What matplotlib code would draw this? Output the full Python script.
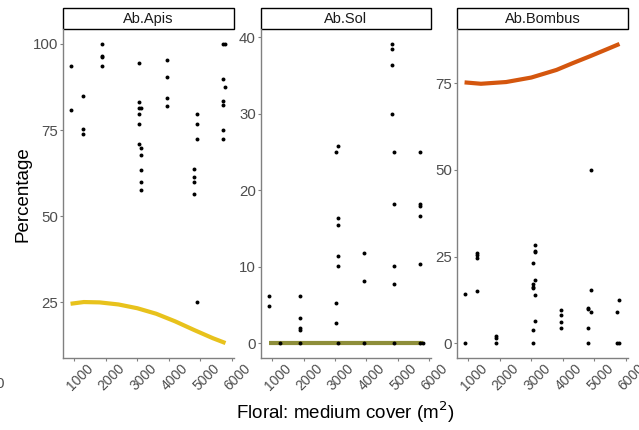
import matplotlib
matplotlib.use('Agg')
import matplotlib.pyplot as plt
import matplotlib.transforms as mtransforms
from matplotlib.patches import Rectangle

plt.rcParams['font.family'] = ['Liberation Sans', 'DejaVu Sans']

# site positions (floral medium cover, m2)
A, B, C, D, E, F, G, H, I, J = 880, 1260, 1880, 3040, 3110, 3930, 4810, 4890, 5730, 5800

panels = ['Ab.Apis', 'Ab.Sol', 'Ab.Bombus']

apis_x = [A, A, B, B, B, C, C, C, C,
          D, D, D, D, D, D, E, E, E, E, E, E,
          F, F, F, F, G, G, G, G, H, H, H, H,
          I, I, I, I, I, I, J, J]
apis_y = [93.7, 80.7, 84.8, 75.2, 74.0, 100, 96.6, 96.2, 93.7,
          94.6, 83.2, 81.4, 79.8, 76.7, 71.1, 81.4, 69.9, 67.7, 63.3, 59.9, 57.6,
          95.4, 90.3, 84.3, 82.1, 63.6, 61.5, 59.9, 56.5, 79.8, 76.7, 72.5, 25.0,
          100, 89.9, 83.3, 82.2, 75.0, 72.5, 100, 87.6]

sol_x = [A, A, B, C, C, C, C, C, D, D, D, E, E, E, E, E, E, F, F, F,
         G, G, G, G, H, H, H, H, H, I, I, I, I, I, I, J]
sol_y = [6.2, 4.8, 0, 6.2, 3.3, 2.0, 1.75, 0, 25.0, 5.3, 2.6,
         25.8, 16.4, 15.4, 11.4, 10.05, 0, 11.8, 8.05, 0,
         39.1, 38.4, 36.3, 29.9, 25.0, 18.2, 10.05, 7.75, 0,
         25.0, 18.2, 17.9, 16.6, 10.3, 0, 0]

bombus_x = [A, A, B, B, B, B, C, C, C, D, D, D, D, D, D,
            E, E, E, E, E, E, F, F, F, F, G, G, G, G, H, H, H, I, I, J, J]
bombus_y = [14.1, 0, 26.0, 25.4, 24.7, 14.9, 2.1, 1.6, 0,
            23.0, 17.2, 16.3, 15.8, 3.7, 0,
            28.4, 26.6, 26.3, 18.3, 13.8, 6.4, 9.6, 8.1, 6.0, 4.3,
            10.1, 9.9, 4.3, 0, 50, 15.4, 9.1, 9.1, 0, 12.5, 0]

# fitted curves
apis_fit_x = [880, 1300, 1800, 2400, 3000, 3600, 4200, 4800, 5400, 5800]
apis_fit_y = [24.6, 25.1, 25.0, 24.4, 23.3, 21.7, 19.5, 17.0, 14.6, 13.2]
sol_fit_x = [880, 5800]
sol_fit_y = [0, 0]
bombus_fit_x = [880, 1400, 2200, 3000, 3800, 4300, 4850, 5380, 5800]
bombus_fit_y = [75.3, 74.9, 75.4, 76.7, 78.9, 80.8, 82.8, 84.8, 86.4]

xs = [apis_x, sol_x, bombus_x]
ys = [apis_y, sol_y, bombus_y]
fits = [(apis_fit_x, apis_fit_y), (sol_fit_x, sol_fit_y), (bombus_fit_x, bombus_fit_y)]
fit_colors = ['#E8C21C', '#8E8E3A', '#D4560E']
yticks = [[25, 50, 75, 100], [0, 10, 20, 30, 40], [0, 25, 50, 75]]
xticks = [1000, 2000, 3000, 4000, 5000, 6000]

W, Hh = 639, 430
fig = plt.figure(figsize=(W / 100, Hh / 100), dpi=100)
lefts = [63, 261, 457]
widths = [171, 170, 171]
top, bottom = 29, 358

axis_grey = '#808080'
label_grey = '#4d4d4d'

for i, name in enumerate(panels):
    ax = fig.add_axes([lefts[i] / W, (Hh - bottom) / Hh, widths[i] / W, (bottom - top) / Hh])
    fx, fy = fits[i]
    ax.plot(fx, fy, color=fit_colors[i], lw=3, solid_capstyle='butt', zorder=2)
    ax.scatter(xs[i], ys[i], s=8, color='black', linewidths=0, zorder=3)
    ax.set_xlim(640, 6070)
    ax.set_xticks(xticks)
    ax.set_yticks(yticks[i])
    for s in ['top', 'right']:
        ax.spines[s].set_visible(False)
    for s in ['left', 'bottom']:
        ax.spines[s].set_color(axis_grey)
        ax.spines[s].set_linewidth(1.0)
    ax.tick_params(axis='y', length=2.5, width=0.8, color=axis_grey,
                   labelcolor=label_grey, labelsize=10.8, pad=1.2)
    ax.tick_params(axis='x', length=2.5, width=0.8, color=axis_grey,
                   labelcolor=label_grey, labelsize=10, pad=0)
    offset = mtransforms.ScaledTranslation(0.06, 0, fig.dpi_scale_trans)
    for lab in ax.get_xticklabels():
        lab.set_rotation(45)
        lab.set_ha('center')
        lab.set_va('top')
        lab.set_transform(lab.get_transform() + offset)
    strip_h = 21 / (bottom - top)
    ax.add_patch(Rectangle((0, 1), 1, strip_h, transform=ax.transAxes,
                           facecolor='white', edgecolor='black', lw=1.0, clip_on=False))
    ax.text(0.5, 1 + strip_h / 2, name, transform=ax.transAxes, ha='center',
            va='center', fontsize=10.5, color='#1a1a1a')

fig.text(23 / W, 1 - 194 / Hh, 'Percentage', rotation=90, ha='center', va='center',
         fontsize=13.5, color='black')
fig.text(345 / W, 1 - 412 / Hh, 'Floral: medium cover (m$^2$)', ha='center',
         va='center', fontsize=13.5, color='black')
fig.text(0.0, 1 - 384 / Hh, '0', ha='center', va='center', fontsize=10.8, color=label_grey)

fig.savefig('out.png', dpi=100)
